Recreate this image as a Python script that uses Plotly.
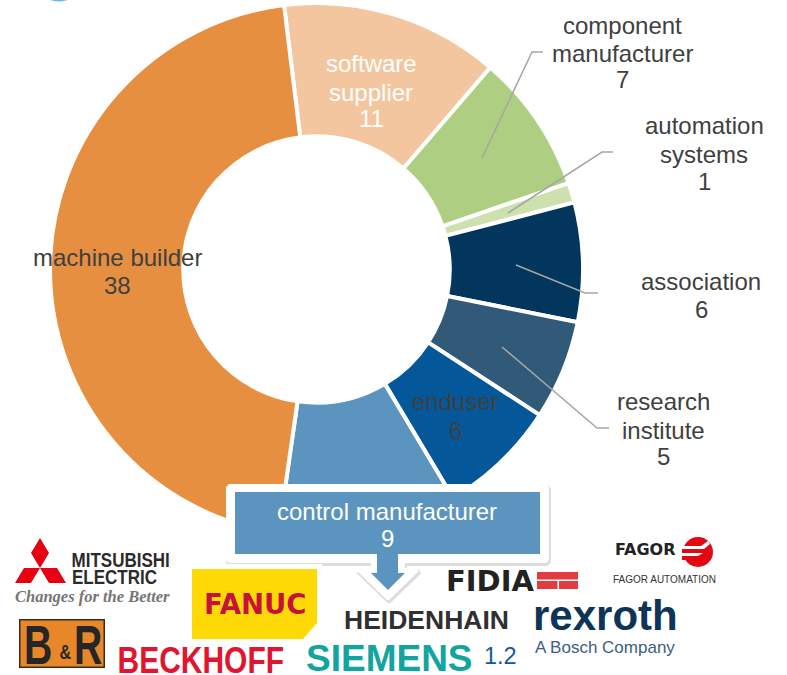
import plotly.graph_objects as go

categories = ["software supplier", "component manufacturer", "automation systems", "association",
              "research institute", "enduser", "control manufacturer", "machine builder"]
counts = [11, 7, 1, 6, 5, 6, 9, 38]
slice_colors = ["#F4C6A0", "#AECF82", "#CDE0AE", "#03365C", "#305A78", "#04589A", "#5B94BF", "#E68F40"]
version_label = "1.2"

W, H = 787, 675
SANS = "Liberation Sans"
DEJAVU = "DejaVu Sans"
px = lambda x: x / W
py = lambda y: 1 - y / H

shapes, annots = [], []

def txt(x, y, s, size, color, family=SANS, bold=False, italic=False):
    annots.append(dict(x=px(x), y=py(y), xref="paper", yref="paper", text=s, showarrow=False,
                       xanchor="center", yanchor="middle", borderpad=0, borderwidth=0,
                       font=dict(size=size, color=color, family=family,
                                 weight="bold" if bold else "normal",
                                 style="italic" if italic else "normal")))

def poly(pts, fill, close=True, line=None, width=0, opacity=1):
    d = "M " + " L ".join(f"{px(a):.5f} {py(b):.5f}" for a, b in pts) + (" Z" if close else "")
    shapes.append(dict(type="path", path=d, xref="paper", yref="paper", layer="above", opacity=opacity,
                       fillcolor=fill if fill else "rgba(0,0,0,0)",
                       line=dict(color=line or "rgba(0,0,0,0)", width=width)))

def rect(x0, y0, x1, y1, fill):
    shapes.append(dict(type="rect", x0=px(x0), x1=px(x1), y0=py(y0), y1=py(y1), xref="paper", yref="paper",
                       layer="above", fillcolor=fill, line=dict(width=0)))

def circle(x0, y0, x1, y1, fill):
    shapes.append(dict(type="circle", x0=px(x0), x1=px(x1), y0=py(y0), y1=py(y1), xref="paper", yref="paper",
                       layer="above", fillcolor=fill, line=dict(width=0)))

def leader(pts):
    poly(pts, None, close=False, line="#A6A6A6", width=1.5)

# cyan fragment at the top edge
circle(45, -12, 73, 1.5, "#62B8FF")

# leader lines
leader([(482, 158), (532, 52), (543, 52)])
leader([(508, 213), (602, 152), (613, 152)])
leader([(516, 265), (585, 293), (598, 293)])
leader([(502, 347), (597, 428), (609, 428)])

# callout
outline = [(229, 484), (546, 484), (549, 487), (549, 560), (546, 563), (405, 563), (405, 568), (417, 568), (419, 571),
           (389, 600), (387, 600), (357, 571), (359, 568), (371, 568), (371, 563), (229, 563), (226, 560), (226, 487)]
poly([(a + 1, b + 2) for a, b in outline], "#000000", opacity=0.13, line="#000000", width=2)
poly(outline, "#FFFFFF")
poly([(235, 492), (540, 492), (540, 554), (398, 554), (398, 573), (405, 573), (388, 590), (371, 573),
      (377, 573), (377, 554), (235, 554)], slice_colors[6])

# text labels of the doughnut
dark, white = "#404040", "#FFFFFF"
LBL = 24
label_lines = {
    0: (371, [64, 92, 119], ["software", "supplier"], white),
    1: (622, [26, 53, 80], ["component", "manufacturer"], dark),
    2: (704, [126, 154, 181], ["automation", "systems"], dark),
    3: (701, [281, 309], ["association"], dark),
    4: (663, [402, 430, 457], ["research", "institute"], dark),
    5: (455, [402, 430], ["enduser"], dark),
    6: (387, [511, 538], ["control manufacturer"], white),
    7: (117, [257, 285], ["machine builder"], dark),
}
for i, (x, ys, lines, col) in label_lines.items():
    for y, s in zip(ys, lines + [str(counts[i])]):
        txt(x, y, s, LBL, col)

# Mitsubishi
red = "#E60012"
poly([(40, 538), (49, 553), (40, 568), (31, 553)], red)
poly([(40, 568), (31, 583), (15, 583), (24, 568)], red)
poly([(40, 568), (49, 583), (66, 583), (57, 568)], red)
txt(121, 559, "MITSUBISHI", 21, "#2B2B2B", SANS, True)
txt(114.5, 576, "ELECTRIC", 21, "#2B2B2B", SANS, True)
txt(92, 596, "Changes for the Better", 16.5, "#757575", "Liberation Serif", True, True)

# Fanuc
rect(192, 564, 322, 640, "#FFFFFF")
poly([(192, 569), (317, 569), (317, 623), (303, 639), (192, 639)], "#FFD905")
txt(255, 604, "FANUC", 27.5, "#C8103C", DEJAVU, True)

# B&R
rect(19, 619, 105, 668, "#3A2A1A")
rect(20.5, 620.5, 103.5, 666.5, "#E8862A")
txt(38, 644, "B", 56, "#262626", SANS, True)
txt(65, 652, "&", 20, "#262626", SANS, True)
txt(88, 644, "R", 56, "#262626", SANS, True)

# Beckhoff, Siemens, Heidenhain, Fidia
txt(201, 660, "BECKHOFF", 37, "#E0152E", SANS, True)
txt(389, 658, "SIEMENS", 37, "#12A5A0", SANS, True)
txt(500, 656, version_label, 23.5, "#0F5AA0")
txt(427, 620, "HEIDENHAIN", 26.5, "#303030", SANS, True)
txt(490, 581, "FIDIA", 29, "#222222", DEJAVU, True)
rect(537, 572, 578, 589, "#E23B40")
rect(537, 579.5, 578, 581, "#FFFFFF")
rect(557.5, 581, 559, 589, "#FFFFFF")

# Fagor
fagor_red = "#E30613"
txt(645, 549, "FAGOR", 16, "#222222", DEJAVU, True)
circle(683, 537, 713, 567, fagor_red)
poly([(680, 546), (701, 546), (708, 541), (710, 544), (704, 549), (680, 549)], "#FFFFFF")
rect(682, 549, 704, 553, fagor_red)
poly([(680, 553), (703, 553), (698, 556), (680, 556)], "#FFFFFF")
rect(682, 556, 697, 560, fagor_red)
txt(664, 579, "FAGOR AUTOMATION", 10, "#333333")

# Rexroth
txt(605, 615, "rexroth", 42, "#0E3557", SANS, True)
txt(605, 647, "A Bosch Company", 17, "#3C6080")

fig = go.Figure(go.Pie(labels=categories, values=counts, sort=False, direction="clockwise", rotation=-7,
                       hole=0.5, textinfo="none", hoverinfo="label+value", showlegend=False,
                       marker=dict(colors=slice_colors, line=dict(color="#FFFFFF", width=4)),
                       domain=dict(x=[px(50), px(583)], y=[py(536), py(3)])))
fig.update_layout(width=W, height=H, margin=dict(l=0, r=0, t=0, b=0), paper_bgcolor="#FFFFFF",
                  shapes=shapes, annotations=annots, font=dict(family=SANS))

# horizontal condensing of the logotype lettering
post = """
document.body.style.margin='0';document.body.style.overflow='hidden';
var squeeze={'BECKHOFF':0.81,'MITSUBISHI':0.81,'ELECTRIC':0.81,'B':0.7,'R':0.7,'&':0.8};
document.querySelectorAll('text.annotation-text').forEach(function(t){
  var s=squeeze[t.textContent]; if(!s) return;
  var b=t.getBBox(), c=b.x+b.width/2;
  t.setAttribute('transform','translate('+c+',0) scale('+s+',1) translate('+(-c)+',0)');
});
"""
fig.write_html("out.html", config={"displayModeBar": False}, post_script=post)
